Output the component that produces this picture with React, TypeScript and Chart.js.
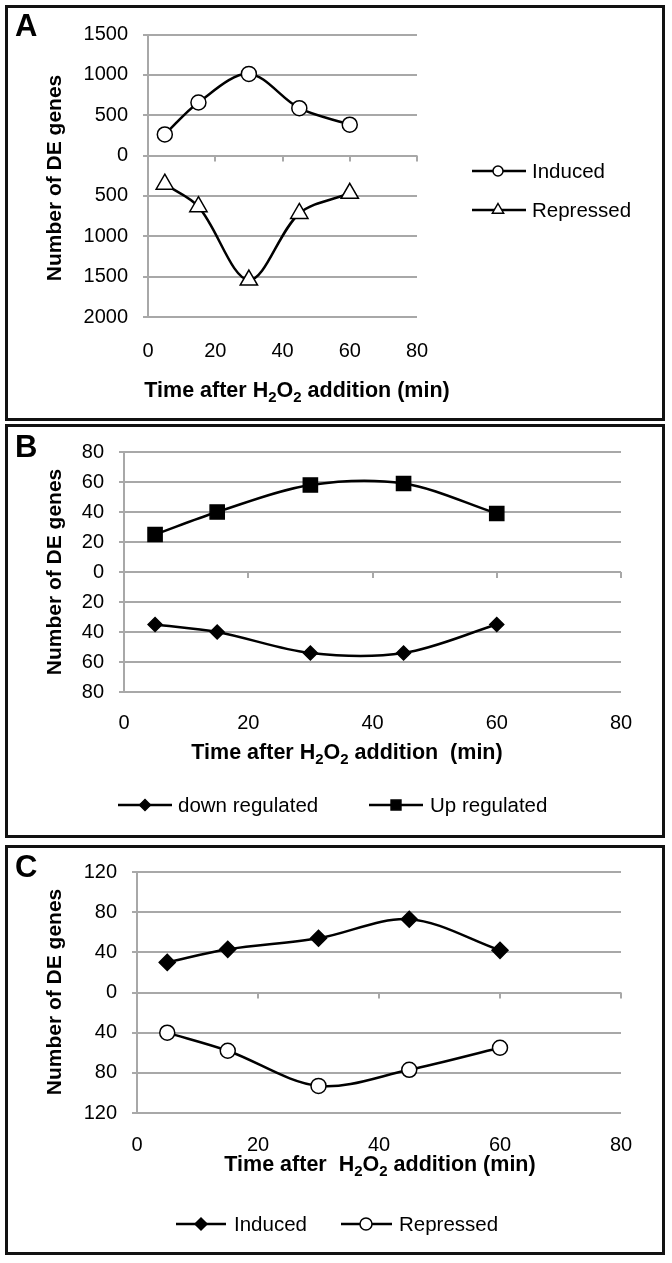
import React, { useEffect, useRef } from 'react';
import { Chart, registerables } from 'chart.js';

Chart.register(...registerables);

const FONT = '"Liberation Sans", Arial, sans-serif';

// ---- data ----
const TIMES = [5, 15, 30, 45, 60];
const X_TICKS_STEP = 20;
const X_MIN = 0;
const X_MAX = 80;

const A_INDUCED = [262, 658, 1012, 587, 383];
const A_REPRESSED = [354, 633, 1542, 717, 467];
const A_Y_RANGE = [-2000, 1500];
const A_Y_STEP = 500;

const B_DOWN = [35, 40, 54, 54, 35];
const B_UP = [25, 40, 58, 59, 39];
const B_Y_RANGE = [-80, 80];
const B_Y_STEP = 20;

const C_INDUCED = [30, 43, 54, 73, 42];
const C_REPRESSED = [40, 58, 93, 77, 55];
const C_Y_RANGE = [-120, 120];
const C_Y_STEP = 40;

const Y_TITLE = 'Number of DE genes';
type Seg = { t: string; sub?: boolean };
const A_X_TITLE: Seg[] = [{ t: 'Time after H' }, { t: '2', sub: true }, { t: 'O' }, { t: '2', sub: true }, { t: ' addition (min)' }];
const B_X_TITLE: Seg[] = [{ t: 'Time after H' }, { t: '2', sub: true }, { t: 'O' }, { t: '2', sub: true }, { t: ' addition  (min)' }];
const C_X_TITLE: Seg[] = [{ t: 'Time after  H' }, { t: '2', sub: true }, { t: 'O' }, { t: '2', sub: true }, { t: ' addition (min)' }];

const GRID = '#a8a8a8';

type Series = {
  label: string;
  values: number[];
  sign: number;
  style: string;
  radius: number;
  fill: string;
};
type LegendItem = { label: string; style: string; fill: string; r: number; x1: number; x2: number; mx: number; tx: number; y: number };
type Spec = {
  letter: string;
  top: number;
  height: number;
  plot: { left: number; right: number; top: number; bottom: number };
  yRange: number[];
  yStep: number;
  xPad: number;
  series: Series[];
  legend: LegendItem[];
  xTitle: Seg[];
  xTitleX: number;
  xTitleY: number;
  yTitleX: number;
  yTitleY: number;
  letterY: number;
};

const SPECS: Spec[] = [
  {
    letter: 'A', top: 0, height: 421,
    plot: { left: 148, right: 417, top: 34.5, bottom: 317 },
    yRange: A_Y_RANGE, yStep: A_Y_STEP, xPad: 14,
    series: [
      { label: 'Induced', values: A_INDUCED, sign: 1, style: 'circle', radius: 7.5, fill: '#fff' },
      { label: 'Repressed', values: A_REPRESSED, sign: -1, style: 'triangle', radius: 10, fill: '#fff' },
    ],
    legend: [
      { label: 'Induced', style: 'circle', fill: '#fff', r: 5, x1: 472, x2: 526, mx: 498, tx: 532, y: 171 },
      { label: 'Repressed', style: 'triangle', fill: '#fff', r: 6.5, x1: 472, x2: 526, mx: 498, tx: 532, y: 210 },
    ],
    xTitle: A_X_TITLE, xTitleX: 297, xTitleY: 391,
    yTitleX: 55, yTitleY: 178, letterY: 36,
  },
  {
    letter: 'B', top: 421, height: 421,
    plot: { left: 124, right: 621, top: 31, bottom: 271 },
    yRange: B_Y_RANGE, yStep: B_Y_STEP, xPad: 11,
    series: [
      { label: 'down regulated', values: B_DOWN, sign: -1, style: 'rectRot', radius: 7, fill: '#000' },
      { label: 'Up regulated', values: B_UP, sign: 1, style: 'rect', radius: 10, fill: '#000' },
    ],
    legend: [
      { label: 'down regulated', style: 'rectRot', fill: '#000', r: 5.5, x1: 118, x2: 172, mx: 145, tx: 178, y: 384 },
      { label: 'Up regulated', style: 'rect', fill: '#000', r: 7, x1: 369, x2: 423, mx: 396, tx: 430, y: 384 },
    ],
    xTitle: B_X_TITLE, xTitleX: 347, xTitleY: 332,
    yTitleX: 55, yTitleY: 151, letterY: 36,
  },
  {
    letter: 'C', top: 842, height: 421,
    plot: { left: 137, right: 621, top: 30, bottom: 271 },
    yRange: C_Y_RANGE, yStep: C_Y_STEP, xPad: 12,
    series: [
      { label: 'Induced', values: C_INDUCED, sign: 1, style: 'rectRot', radius: 8, fill: '#000' },
      { label: 'Repressed', values: C_REPRESSED, sign: -1, style: 'circle', radius: 7.5, fill: '#fff' },
    ],
    legend: [
      { label: 'Induced', style: 'rectRot', fill: '#000', r: 6, x1: 176, x2: 226, mx: 201, tx: 234, y: 382 },
      { label: 'Repressed', style: 'circle', fill: '#fff', r: 6, x1: 341, x2: 392, mx: 366, tx: 399, y: 382 },
    ],
    xTitle: C_X_TITLE, xTitleX: 380, xTitleY: 323,
    yTitleX: 55, yTitleY: 150, letterY: 35,
  },
];

const BORDERS = [
  { top: 5, height: 416 },
  { top: 424, height: 414 },
  { top: 845, height: 410 },
];

function drawMarker(ctx: CanvasRenderingContext2D, style: string, x: number, y: number, r: number, fill: string) {
  ctx.beginPath();
  if (style === 'circle') {
    ctx.arc(x, y, r, 0, Math.PI * 2);
  } else if (style === 'triangle') {
    ctx.moveTo(x, y - r);
    ctx.lineTo(x + r * 0.866, y + r / 2);
    ctx.lineTo(x - r * 0.866, y + r / 2);
    ctx.closePath();
  } else if (style === 'rectRot') {
    ctx.moveTo(x - r, y);
    ctx.lineTo(x, y - r);
    ctx.lineTo(x + r, y);
    ctx.lineTo(x, y + r);
    ctx.closePath();
  } else {
    ctx.rect(x - r * 0.707, y - r * 0.707, r * 1.414, r * 1.414);
  }
  ctx.fillStyle = fill;
  ctx.fill();
  ctx.lineWidth = 1.5;
  ctx.strokeStyle = '#000';
  ctx.stroke();
}

function drawSegs(ctx: CanvasRenderingContext2D, segs: Seg[], cx: number, cy: number, size: number) {
  const main = `bold ${size}px ${FONT}`;
  const subf = `bold ${Math.round(size * 0.68)}px ${FONT}`;
  let total = 0;
  for (const s of segs) {
    ctx.font = s.sub ? subf : main;
    total += ctx.measureText(s.t).width;
  }
  let x = cx - total / 2;
  ctx.textAlign = 'left';
  ctx.textBaseline = 'middle';
  ctx.fillStyle = '#000';
  for (const s of segs) {
    ctx.font = s.sub ? subf : main;
    ctx.fillText(s.t, x, s.sub ? cy + size * 0.3 : cy);
    x += ctx.measureText(s.t).width;
  }
}

function Panel({ spec }: { spec: Spec }) {
  const ref = useRef<HTMLCanvasElement>(null);
  useEffect(() => {
    const canvas = ref.current;
    if (!canvas) return;
    const W = 672;
    const H = spec.height;
    const X_AXIS_H = 40;
    const decor = {
      id: 'decor' + spec.letter,
      beforeDatasetsDraw(chart: any) {
        const ctx = chart.ctx as CanvasRenderingContext2D;
        const xs = chart.scales.x;
        const ys = chart.scales.y;
        const y0 = ys.getPixelForValue(0);
        ctx.save();
        ctx.strokeStyle = GRID;
        ctx.lineWidth = 2;
        for (let v = X_MIN + X_TICKS_STEP; v <= X_MAX; v += X_TICKS_STEP) {
          const px = Math.round(xs.getPixelForValue(v));
          ctx.beginPath();
          ctx.moveTo(px, y0);
          ctx.lineTo(px, y0 + 6);
          ctx.stroke();
        }
        ctx.restore();
      },
      afterDraw(chart: any) {
        const ctx = chart.ctx as CanvasRenderingContext2D;
        ctx.save();
        // panel letter
        ctx.font = `bold 31px ${FONT}`;
        ctx.fillStyle = '#000';
        ctx.textAlign = 'left';
        ctx.textBaseline = 'alphabetic';
        ctx.fillText(spec.letter, 15, spec.letterY);
        // y title
        ctx.save();
        ctx.translate(spec.yTitleX, spec.yTitleY);
        ctx.rotate(-Math.PI / 2);
        ctx.font = `bold 21px ${FONT}`;
        ctx.textAlign = 'center';
        ctx.textBaseline = 'middle';
        ctx.fillText(Y_TITLE, 0, 0);
        ctx.restore();
        // x title
        drawSegs(ctx, spec.xTitle, spec.xTitleX, spec.xTitleY, 21.5);
        // legend
        for (const it of spec.legend) {
          ctx.beginPath();
          ctx.moveTo(it.x1, it.y);
          ctx.lineTo(it.x2, it.y);
          ctx.strokeStyle = '#000';
          ctx.lineWidth = 2.5;
          ctx.stroke();
          drawMarker(ctx, it.style, it.mx, it.y, it.r, it.fill);
          ctx.font = `20.5px ${FONT}`;
          ctx.fillStyle = '#000';
          ctx.textAlign = 'left';
          ctx.textBaseline = 'middle';
          ctx.fillText(it.label, it.tx, it.y + 1);
        }
        ctx.restore();
      },
    };
    const chart = new Chart(canvas, {
      type: 'line',
      data: {
        datasets: spec.series.map((s) => ({
          label: s.label,
          data: TIMES.map((t, i) => ({ x: t, y: s.sign * s.values[i] })),
          borderColor: '#000',
          borderWidth: 2.5,
          tension: 0.33,
          fill: false,
          pointStyle: s.style as any,
          pointRadius: s.radius,
          pointBackgroundColor: s.fill,
          pointBorderColor: '#000',
          pointBorderWidth: 1.5,
        })),
      },
      options: {
        animation: false,
        responsive: false,
        maintainAspectRatio: false,
        devicePixelRatio: 1,
        layout: {
          padding: {
            left: 0,
            top: spec.plot.top,
            right: W - spec.plot.right,
            bottom: H - spec.plot.bottom - X_AXIS_H,
          },
        },
        plugins: { legend: { display: false }, tooltip: { enabled: false } },
        scales: {
          x: {
            type: 'linear',
            position: 'bottom',
            min: X_MIN,
            max: X_MAX,
            afterFit: (s: any) => { s.height = X_AXIS_H; },
            ticks: { stepSize: X_TICKS_STEP, font: { family: FONT, size: 20 }, color: '#000', padding: spec.xPad, maxRotation: 0 },
            grid: { display: false },
            border: { display: false },
          },
          y: {
            type: 'linear',
            min: spec.yRange[0],
            max: spec.yRange[1],
            afterFit: (s: any) => { s.width = spec.plot.left; },
            ticks: {
              stepSize: spec.yStep,
              font: { family: FONT, size: 20 },
              color: '#000',
              padding: 15,
              callback: (v: any) => String(Math.abs(Number(v))),
            },
            grid: { color: GRID, lineWidth: 2, tickLength: 5, drawTicks: true },
            border: { display: true, color: GRID, width: 2 },
          },
        },
      } as any,
      plugins: [decor],
    });
    return () => chart.destroy();
  }, [spec]);
  return (
    <canvas
      ref={ref}
      width={672}
      height={spec.height}
      style={{ position: 'absolute', left: 0, top: spec.top, width: 672, height: spec.height, display: 'block' }}
    />
  );
}

export default function App() {
  return (
    <div style={{ position: 'absolute', left: 0, top: 0, width: 672, height: 1263, background: '#fff', overflow: 'hidden' }}>
      {SPECS.map((s) => (
        <Panel key={s.letter} spec={s} />
      ))}
      {BORDERS.map((b, i) => (
        <div
          key={i}
          style={{
            position: 'absolute',
            left: 5,
            top: b.top,
            width: 660,
            height: b.height,
            border: '3px solid #111',
            boxSizing: 'border-box',
            pointerEvents: 'none',
          }}
        />
      ))}
    </div>
  );
}
